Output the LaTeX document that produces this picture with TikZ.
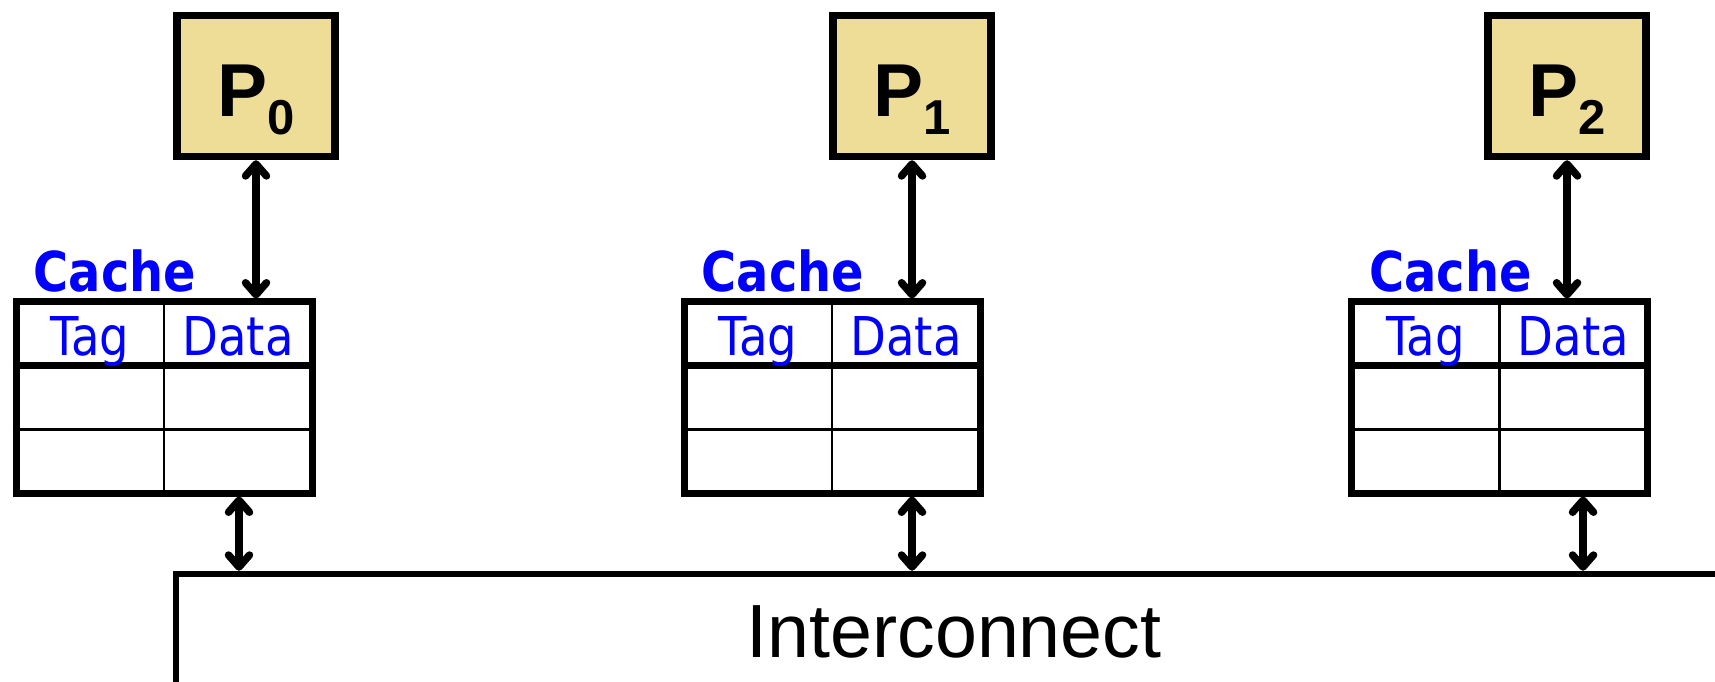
\documentclass[tikz,border=0pt]{standalone}
\usepackage{fontspec}
\setmainfont{Liberation Sans}
\newfontfamily\tahomalike[FakeStretch=0.87]{DejaVu Sans}
\usetikzlibrary{calc,positioning,arrows.meta}
\definecolor{ProcFill}{RGB}{238,221,150}
\definecolor{CacheBlue}{RGB}{0,0,255}
\newcommand{\proclabel}[1]{{\fontsize{75}{80}\selectfont P}\raisebox{-18pt}{\fontsize{49}{50}\selectfont #1}}

\begin{document}
\begin{tikzpicture}[x=1pt,y=1pt,
  proc/.style={draw,line width=7.5pt,fill=ProcFill,minimum width=158pt,minimum height=141pt,
    inner sep=0pt,text height=80pt,text depth=18pt,font=\bfseries},
  cachetab/.style={draw,line width=7pt,minimum width=296pt,minimum height=191pt,inner sep=0pt},
  cachename/.style={inner sep=0pt,text=CacheBlue,font=\tahomalike\bfseries\fontsize{55}{60}\selectfont},
  fieldname/.style={inner sep=0pt,anchor=base,text=CacheBlue,font=\tahomalike\fontsize{53.5}{60}\selectfont},
  rowline/.style={line width=6.5pt},
  thinline/.style={line width=2.3pt},
  biarrow/.style={line width=7.5pt,{Straight Barb[length=12pt,width=21pt,round]}-{Straight Barb[length=12pt,width=21pt,round]}},
  bus/.style={draw,line width=6.5pt,minimum width=1556pt,minimum height=116pt,font=\fontsize{75.4}{80}\selectfont}
]
\useasboundingbox (0,0) rectangle (1715,681);
\clip (0,0) rectangle (1715,681);

%interconnect
\node[bus] (Bus) at (954,49) {Interconnect};

%processors
\node[proc] (Proc0) at (256,595) {\proclabel{0}};
\node[proc] (Proc1) at (912,595) {\proclabel{1}};
\node[proc] (Proc2) at (1567,595) {\proclabel{2}};

%caches
\node[cachetab] (Cache0) at (164,283.5) {};
\node[cachetab] (Cache1) at (832,283.5) {};
\node[cachetab] (Cache2) at (1499.5,283.5) {};
\foreach \c in {0,1,2}{
  \draw[rowline] ([yshift=-67pt]Cache\c.north west) -- ([yshift=-67pt]Cache\c.north east);
  \draw[thinline] ([yshift=-131pt]Cache\c.north west) -- ([yshift=-131pt]Cache\c.north east);
  \draw[thinline] (Cache\c.north) -- (Cache\c.south);
  \node[fieldname] (Tag\c) at ([xshift=-74pt,yshift=-57pt]Cache\c.north) {Tag};
  \node[fieldname] (Data\c) at ([xshift=74pt,yshift=-57pt]Cache\c.north) {Data};
  \node[cachename,above right=6pt and 21pt of Cache\c.north west] (CacheName\c) {Cache};
}

%links
\coordinate (Drop0) at (239,0);
\coordinate (Drop1) at (912,0);
\coordinate (Drop2) at (1583,0);
\foreach \c in {0,1,2}{
  \draw[biarrow] (Proc\c.south) -- (Proc\c.south |- Cache\c.north);
  \draw[biarrow] (Cache\c.south -| Drop\c) -- (Bus.north -| Drop\c);
}
\end{tikzpicture}
\end{document}
